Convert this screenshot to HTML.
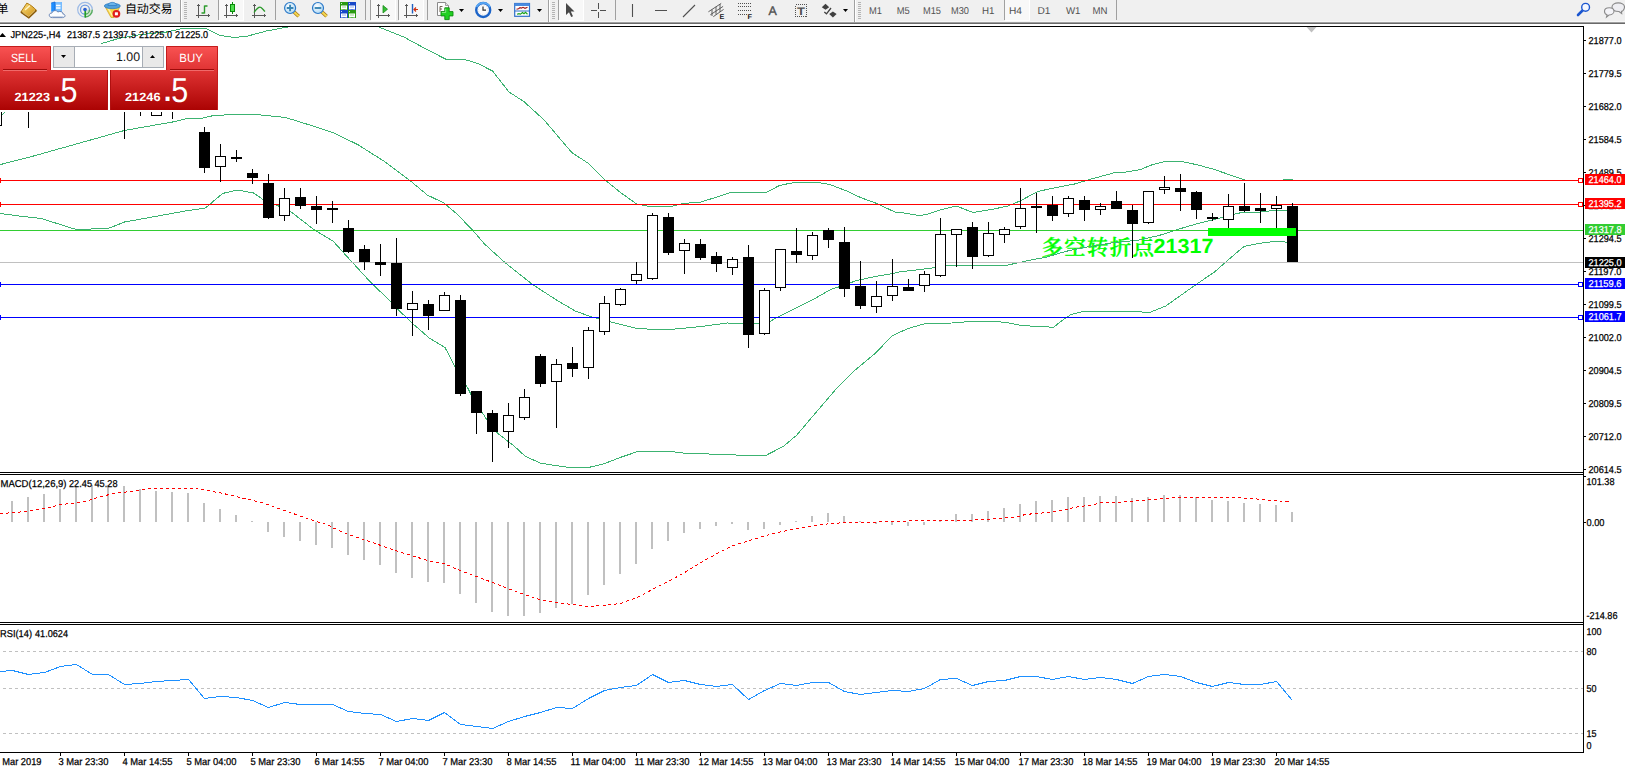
<!DOCTYPE html>
<html lang="zh"><head><meta charset="utf-8"><title>JPN225-,H4</title>
<style>
html,body{margin:0;padding:0;background:#fff;overflow:hidden}
svg{display:block;font-family:"Liberation Sans","Noto Sans CJK SC",sans-serif;font-size:10px;text-rendering:geometricPrecision}
</style></head><body>
<svg width="1625" height="768" viewBox="0 0 1625 768">
<defs>
<linearGradient id="rg" x1="0" y1="0" x2="0" y2="1"><stop offset="0" stop-color="#f95353"/><stop offset="0.38" stop-color="#df3333"/><stop offset="1" stop-color="#ab0303"/></linearGradient>
<linearGradient id="gold" x1="0" y1="0" x2="1" y2="1"><stop offset="0" stop-color="#ffe27a"/><stop offset="1" stop-color="#c98a12"/></linearGradient>
<linearGradient id="blu" x1="0" y1="0" x2="0" y2="1"><stop offset="0" stop-color="#9fd0ff"/><stop offset="1" stop-color="#1f6fd6"/></linearGradient>
<radialGradient id="lens" cx="0.4" cy="0.35" r="0.7"><stop offset="0" stop-color="#ffffff"/><stop offset="1" stop-color="#a9d6f5"/></radialGradient>
<clipPath id="cm"><rect x="0" y="27" width="1583" height="445"/></clipPath>
<clipPath id="c2"><rect x="0" y="475" width="1583" height="147"/></clipPath>
</defs>
<rect x="0" y="0" width="1625" height="768" fill="#fff"/><g shape-rendering="crispEdges">
<rect x="0" y="26" width="1584" height="1" fill="#000"/><rect x="1583" y="26" width="1" height="727" fill="#000"/><rect x="0" y="472" width="1584" height="1" fill="#000"/><rect x="0" y="474" width="1584" height="1" fill="#000"/><rect x="0" y="622" width="1584" height="1" fill="#000"/><rect x="0" y="624" width="1584" height="1" fill="#000"/><rect x="0" y="752" width="1584" height="1" fill="#000"/><polygon points="1306.5,27 1316.5,27 1311.5,32.5" fill="#c0c0c0" shape-rendering="auto"/></g>
<g clip-path="url(#cm)"><text x="1041.5" y="254.5" font-size="21.5" font-weight="600" fill="#00ff00" stroke="#00ff00" stroke-width="0.35" style="font-family:'Liberation Serif','Noto Serif CJK SC',serif" textLength="112.5" lengthAdjust="spacing">多空转折点</text><text x="1153.5" y="253" font-size="20.6" font-weight="bold" fill="#00ff00" textLength="60" lengthAdjust="spacingAndGlyphs">21317</text></g>
<g shape-rendering="crispEdges" clip-path="url(#cm)">
<polyline fill="none" stroke="#3cb371" stroke-width="1" points="0.5,117 4.5,112.5 30.5,92 60.5,68 101.7,43.5 118.7,38.5 140.8,34.5 166.6,32 185.1,28 205.4,28 220.2,35.5 234.9,37.5 247.9,36 266.3,31 290.3,26.5 310.5,20 350.5,18 378.9,27 403.8,37 422.3,47 445.4,59 463,59 477.8,63.5 492.5,71 509,92 523.8,101.5 544.1,120 560.7,139.5 571.8,152.5 588.5,163.5 605.1,180 619.9,192 636.5,204 649.5,206.5 670.7,206.5 682.7,203.5 701.2,202 730.8,192.5 766.1,192.5 779.5,185.5 788.9,183.5 795,182.5 816.9,182.5 825.1,183.5 831.1,185 846.7,191 860.5,197.5 876.8,203.5 895.8,212.5 900.5,212.5 919.3,215.5 926.7,214.5 941.5,209.5 956.3,206 972.9,212.5 991.4,209.5 1008,206 1021,200.5 1037.6,191.5 1056.1,187.5 1074.6,184 1093.1,178.5 1113.4,173 1126.3,172 1140.5,169.5 1151.5,165 1164.5,161.5 1181.2,161.5 1196,164.5 1214.5,169.5 1232.9,176 1243.1,179.5 1244.5,180 1283.5,180 1284.5,179 1292.5,179"/><polyline fill="none" stroke="#3cb371" stroke-width="1" points="0.5,164.5 28.2,157.5 74.5,144.5 124.3,130.5 172.5,122 187.2,118.5 200.5,118.5 211.5,116 230.1,114.5 256,114.5 285.5,117.5 311.4,125.5 333.6,133 357.6,144.5 385.3,162 410.5,181 427.3,195 443.9,203 456.9,214 472.5,230 484.5,244 504.9,262.5 532.5,284.5 556.5,300 575.2,311 590.5,316.5 610.8,322 634.9,328 653.3,329.5 675.5,329 701.4,326.5 727.3,323 743.9,324 767.9,322.5 775.3,318.5 793.8,309 812.3,300 830.8,289.5 840,286.5 856.7,280.5 875.2,276.5 890.5,274 899,272 932.3,268 950.7,265 961.8,265 976.6,266 1008,265 1028.4,260.5 1046.9,257 1065.3,251.5 1083.8,247.5 1111.5,243 1139.3,240 1159,235.5 1177.5,229.5 1196,224 1214.5,219.5 1232.9,214.5 1244,212 1260.5,212 1277.3,210 1288.5,211 1292.5,211"/><polyline fill="none" stroke="#3cb371" stroke-width="1" points="0.5,213.5 19,216 41.2,218.5 74.5,229 81.5,229.5 109.5,228 124.5,222 185.5,211 205.5,208 222.5,193.5 237.1,190 253.5,193 264.5,200.5 277.5,205.5 290.5,211.5 314.5,230 333,241 351.5,261.5 371.8,283.5 391.2,302 397,308.5 412.5,323.5 429.3,338 445,347.5 455.2,367 467.2,387 471.5,395.5 486.7,419.5 497.8,433.5 513.5,445.5 525.5,456.5 540.3,463 555.1,465.5 569.9,467.5 588.4,467.5 603.2,464 621.6,457 636.4,452 647.5,451.5 671.5,451.5 682.5,453 708.5,454 730.5,454.5 742.2,455.5 765.7,455.5 783.2,446.5 796.9,435 812.5,416.5 836.9,388 853.5,371.5 875,353.5 892.6,335.5 908.2,328.5 923.9,324 945.3,323.5 970.7,321.5 996.1,321.5 1006.5,322.5 1018.8,325 1029.6,326 1045.2,326.5 1053.3,327.5 1061.4,321 1070.9,314.5 1083.1,311.5 1141.3,311.5 1142.7,312.5 1149.4,312.5 1165.7,306 1179.2,296.5 1196.8,284 1214.5,272 1229.2,259 1244,246.5 1258.8,243.5 1277.3,241 1288.5,242.5 1292.5,242.5"/><rect x="0" y="262" width="1583" height="1" fill="#c0c0c0"/><rect x="0" y="180" width="1583" height="1" fill="#f00"/><rect x="0" y="204" width="1583" height="1" fill="#f00"/><rect x="0" y="230" width="1583" height="1" fill="#32cd32"/><rect x="0" y="284" width="1583" height="1" fill="#00f"/><rect x="0" y="317" width="1583" height="1" fill="#00f"/><rect x="1578.5" y="178.5" width="4" height="4" fill="#fff" stroke="#f00"/><rect x="-3.5" y="178.5" width="4" height="4" fill="#fff" stroke="#f00"/><rect x="1578.5" y="202.5" width="4" height="4" fill="#fff" stroke="#f00"/><rect x="-3.5" y="202.5" width="4" height="4" fill="#fff" stroke="#f00"/><rect x="1578.5" y="282.5" width="4" height="4" fill="#fff" stroke="#00f"/><rect x="-3.5" y="282.5" width="4" height="4" fill="#fff" stroke="#00f"/><rect x="1578.5" y="315.5" width="4" height="4" fill="#fff" stroke="#00f"/><rect x="-3.5" y="315.5" width="4" height="4" fill="#fff" stroke="#00f"/><rect x="-4" y="95" width="1" height="31" fill="#000"/><rect x="-9" y="100" width="11" height="26" fill="#000"/><rect x="-8" y="101" width="9" height="24" fill="#fff"/><rect x="28" y="70" width="1" height="58" fill="#000"/><rect x="23" y="85" width="11" height="10" fill="#000"/><rect x="124" y="80" width="1" height="59" fill="#000"/><rect x="119" y="90" width="11" height="10" fill="#000"/><rect x="140" y="80" width="1" height="36" fill="#000"/><rect x="135" y="85" width="11" height="10" fill="#000"/><rect x="156" y="80" width="1" height="36" fill="#000"/><rect x="151" y="90" width="11" height="26" fill="#000"/><rect x="152" y="91" width="9" height="24" fill="#fff"/><rect x="172" y="80" width="1" height="39" fill="#000"/><rect x="167" y="85" width="11" height="10" fill="#000"/><rect x="204" y="127" width="1" height="46" fill="#000"/><rect x="199" y="132" width="11" height="36" fill="#000"/><rect x="220" y="144" width="1" height="38" fill="#000"/><rect x="215" y="156" width="11" height="11" fill="#000"/><rect x="216" y="157" width="9" height="9" fill="#fff"/><rect x="236" y="150" width="1" height="12" fill="#000"/><rect x="231" y="157" width="11" height="2" fill="#000"/><rect x="252" y="169" width="1" height="15" fill="#000"/><rect x="247" y="173" width="11" height="5" fill="#000"/><rect x="268" y="174" width="1" height="45" fill="#000"/><rect x="263" y="183" width="11" height="35" fill="#000"/><rect x="284" y="188" width="1" height="33" fill="#000"/><rect x="279" y="198" width="11" height="18" fill="#000"/><rect x="280" y="199" width="9" height="16" fill="#fff"/><rect x="300" y="188" width="1" height="21" fill="#000"/><rect x="295" y="197" width="11" height="9" fill="#000"/><rect x="316" y="196" width="1" height="28" fill="#000"/><rect x="311" y="206" width="11" height="4" fill="#000"/><rect x="332" y="201" width="1" height="22" fill="#000"/><rect x="327" y="208" width="11" height="2" fill="#000"/><rect x="348" y="220" width="1" height="33" fill="#000"/><rect x="343" y="228" width="11" height="24" fill="#000"/><rect x="364" y="245" width="1" height="25" fill="#000"/><rect x="359" y="249" width="11" height="13" fill="#000"/><rect x="380" y="244" width="1" height="32" fill="#000"/><rect x="375" y="262" width="11" height="3" fill="#000"/><rect x="396" y="238" width="1" height="78" fill="#000"/><rect x="391" y="263" width="11" height="46" fill="#000"/><rect x="412" y="291" width="1" height="45" fill="#000"/><rect x="407" y="303" width="11" height="7" fill="#000"/><rect x="408" y="304" width="9" height="5" fill="#fff"/><rect x="428" y="300" width="1" height="30" fill="#000"/><rect x="423" y="304" width="11" height="12" fill="#000"/><rect x="444" y="292" width="1" height="19" fill="#000"/><rect x="439" y="295" width="11" height="16" fill="#000"/><rect x="440" y="296" width="9" height="14" fill="#fff"/><rect x="460" y="295" width="1" height="101" fill="#000"/><rect x="455" y="300" width="11" height="94" fill="#000"/><rect x="476" y="391" width="1" height="43" fill="#000"/><rect x="471" y="391" width="11" height="22" fill="#000"/><rect x="492" y="410" width="1" height="52" fill="#000"/><rect x="487" y="413" width="11" height="19" fill="#000"/><rect x="508" y="403" width="1" height="45" fill="#000"/><rect x="503" y="415" width="11" height="17" fill="#000"/><rect x="504" y="416" width="9" height="15" fill="#fff"/><rect x="524" y="389" width="1" height="31" fill="#000"/><rect x="519" y="397" width="11" height="21" fill="#000"/><rect x="520" y="398" width="9" height="19" fill="#fff"/><rect x="540" y="354" width="1" height="33" fill="#000"/><rect x="535" y="356" width="11" height="28" fill="#000"/><rect x="556" y="359" width="1" height="69" fill="#000"/><rect x="551" y="364" width="11" height="18" fill="#000"/><rect x="552" y="365" width="9" height="16" fill="#fff"/><rect x="572" y="347" width="1" height="30" fill="#000"/><rect x="567" y="363" width="11" height="6" fill="#000"/><rect x="588" y="327" width="1" height="52" fill="#000"/><rect x="583" y="330" width="11" height="38" fill="#000"/><rect x="584" y="331" width="9" height="36" fill="#fff"/><rect x="604" y="296" width="1" height="39" fill="#000"/><rect x="599" y="303" width="11" height="29" fill="#000"/><rect x="600" y="304" width="9" height="27" fill="#fff"/><rect x="620" y="288" width="1" height="18" fill="#000"/><rect x="615" y="289" width="11" height="16" fill="#000"/><rect x="616" y="290" width="9" height="14" fill="#fff"/><rect x="636" y="262" width="1" height="22" fill="#000"/><rect x="631" y="274" width="11" height="7" fill="#000"/><rect x="632" y="275" width="9" height="5" fill="#fff"/><rect x="652" y="213" width="1" height="67" fill="#000"/><rect x="647" y="215" width="11" height="64" fill="#000"/><rect x="648" y="216" width="9" height="62" fill="#fff"/><rect x="668" y="213" width="1" height="42" fill="#000"/><rect x="663" y="217" width="11" height="36" fill="#000"/><rect x="684" y="239" width="1" height="35" fill="#000"/><rect x="679" y="243" width="11" height="8" fill="#000"/><rect x="680" y="244" width="9" height="6" fill="#fff"/><rect x="700" y="239" width="1" height="21" fill="#000"/><rect x="695" y="244" width="11" height="14" fill="#000"/><rect x="716" y="252" width="1" height="20" fill="#000"/><rect x="711" y="256" width="11" height="8" fill="#000"/><rect x="732" y="257" width="1" height="18" fill="#000"/><rect x="727" y="259" width="11" height="9" fill="#000"/><rect x="728" y="260" width="9" height="7" fill="#fff"/><rect x="748" y="245" width="1" height="103" fill="#000"/><rect x="743" y="257" width="11" height="78" fill="#000"/><rect x="764" y="288" width="1" height="47" fill="#000"/><rect x="759" y="290" width="11" height="44" fill="#000"/><rect x="760" y="291" width="9" height="42" fill="#fff"/><rect x="780" y="249" width="1" height="42" fill="#000"/><rect x="775" y="249" width="11" height="39" fill="#000"/><rect x="776" y="250" width="9" height="37" fill="#fff"/><rect x="796" y="228" width="1" height="35" fill="#000"/><rect x="791" y="251" width="11" height="4" fill="#000"/><rect x="812" y="232" width="1" height="28" fill="#000"/><rect x="807" y="235" width="11" height="21" fill="#000"/><rect x="808" y="236" width="9" height="19" fill="#fff"/><rect x="828" y="228" width="1" height="20" fill="#000"/><rect x="823" y="230" width="11" height="10" fill="#000"/><rect x="844" y="227" width="1" height="70" fill="#000"/><rect x="839" y="242" width="11" height="47" fill="#000"/><rect x="860" y="261" width="1" height="48" fill="#000"/><rect x="855" y="286" width="11" height="20" fill="#000"/><rect x="876" y="281" width="1" height="32" fill="#000"/><rect x="871" y="296" width="11" height="11" fill="#000"/><rect x="872" y="297" width="9" height="9" fill="#fff"/><rect x="892" y="259" width="1" height="42" fill="#000"/><rect x="887" y="286" width="11" height="10" fill="#000"/><rect x="888" y="287" width="9" height="8" fill="#fff"/><rect x="908" y="279" width="1" height="12" fill="#000"/><rect x="903" y="287" width="11" height="4" fill="#000"/><rect x="924" y="271" width="1" height="21" fill="#000"/><rect x="919" y="274" width="11" height="12" fill="#000"/><rect x="920" y="275" width="9" height="10" fill="#fff"/><rect x="940" y="218" width="1" height="59" fill="#000"/><rect x="935" y="234" width="11" height="42" fill="#000"/><rect x="936" y="235" width="9" height="40" fill="#fff"/><rect x="956" y="229" width="1" height="38" fill="#000"/><rect x="951" y="229" width="11" height="6" fill="#000"/><rect x="952" y="230" width="9" height="4" fill="#fff"/><rect x="972" y="222" width="1" height="47" fill="#000"/><rect x="967" y="227" width="11" height="30" fill="#000"/><rect x="988" y="222" width="1" height="35" fill="#000"/><rect x="983" y="233" width="11" height="23" fill="#000"/><rect x="984" y="234" width="9" height="21" fill="#fff"/><rect x="1004" y="227" width="1" height="16" fill="#000"/><rect x="999" y="229" width="11" height="6" fill="#000"/><rect x="1000" y="230" width="9" height="4" fill="#fff"/><rect x="1020" y="188" width="1" height="41" fill="#000"/><rect x="1015" y="208" width="11" height="19" fill="#000"/><rect x="1016" y="209" width="9" height="17" fill="#fff"/><rect x="1036" y="193" width="1" height="40" fill="#000"/><rect x="1031" y="206" width="11" height="2" fill="#000"/><rect x="1052" y="196" width="1" height="25" fill="#000"/><rect x="1047" y="205" width="11" height="11" fill="#000"/><rect x="1068" y="196" width="1" height="21" fill="#000"/><rect x="1063" y="198" width="11" height="16" fill="#000"/><rect x="1064" y="199" width="9" height="14" fill="#fff"/><rect x="1084" y="196" width="1" height="25" fill="#000"/><rect x="1079" y="200" width="11" height="10" fill="#000"/><rect x="1100" y="203" width="1" height="12" fill="#000"/><rect x="1095" y="206" width="11" height="4" fill="#000"/><rect x="1096" y="207" width="9" height="2" fill="#fff"/><rect x="1116" y="191" width="1" height="18" fill="#000"/><rect x="1111" y="201" width="11" height="8" fill="#000"/><rect x="1132" y="205" width="1" height="53" fill="#000"/><rect x="1127" y="210" width="11" height="14" fill="#000"/><rect x="1148" y="191" width="1" height="33" fill="#000"/><rect x="1143" y="191" width="11" height="32" fill="#000"/><rect x="1144" y="192" width="9" height="30" fill="#fff"/><rect x="1164" y="176" width="1" height="18" fill="#000"/><rect x="1159" y="187" width="11" height="3" fill="#000"/><rect x="1160" y="188" width="9" height="1" fill="#fff"/><rect x="1180" y="174" width="1" height="37" fill="#000"/><rect x="1175" y="188" width="11" height="4" fill="#000"/><rect x="1196" y="191" width="1" height="28" fill="#000"/><rect x="1191" y="192" width="11" height="18" fill="#000"/><rect x="1212" y="213" width="1" height="8" fill="#000"/><rect x="1207" y="217" width="11" height="2" fill="#000"/><rect x="1228" y="194" width="1" height="34" fill="#000"/><rect x="1223" y="206" width="11" height="14" fill="#000"/><rect x="1224" y="207" width="9" height="12" fill="#fff"/><rect x="1244" y="183" width="1" height="29" fill="#000"/><rect x="1239" y="206" width="11" height="5" fill="#000"/><rect x="1260" y="193" width="1" height="30" fill="#000"/><rect x="1255" y="208" width="11" height="3" fill="#000"/><rect x="1276" y="196" width="1" height="32" fill="#000"/><rect x="1271" y="205" width="11" height="4" fill="#000"/><rect x="1272" y="206" width="9" height="2" fill="#fff"/><rect x="1292" y="203" width="1" height="59" fill="#000"/><rect x="1287" y="206" width="11" height="56" fill="#000"/><rect x="1208" y="228" width="88" height="8" fill="#00ff00"/></g>
<g shape-rendering="crispEdges" clip-path="url(#c2)">
<rect x="11" y="501" width="2" height="21" fill="#c0c0c0"/><rect x="27" y="497" width="2" height="25" fill="#c0c0c0"/><rect x="43" y="494" width="2" height="28" fill="#c0c0c0"/><rect x="59" y="489" width="2" height="33" fill="#c0c0c0"/><rect x="75" y="486" width="2" height="36" fill="#c0c0c0"/><rect x="91" y="485" width="2" height="37" fill="#c0c0c0"/><rect x="107" y="485" width="2" height="37" fill="#c0c0c0"/><rect x="123" y="486" width="2" height="36" fill="#c0c0c0"/><rect x="139" y="489" width="2" height="33" fill="#c0c0c0"/><rect x="155" y="491" width="2" height="31" fill="#c0c0c0"/><rect x="171" y="492" width="2" height="30" fill="#c0c0c0"/><rect x="187" y="493" width="2" height="29" fill="#c0c0c0"/><rect x="203" y="503" width="2" height="19" fill="#c0c0c0"/><rect x="219" y="509" width="2" height="13" fill="#c0c0c0"/><rect x="235" y="515" width="2" height="7" fill="#c0c0c0"/><rect x="251" y="521" width="2" height="1" fill="#c0c0c0"/><rect x="267" y="522" width="2" height="10" fill="#c0c0c0"/><rect x="283" y="522" width="2" height="15" fill="#c0c0c0"/><rect x="299" y="522" width="2" height="19" fill="#c0c0c0"/><rect x="315" y="522" width="2" height="23" fill="#c0c0c0"/><rect x="331" y="522" width="2" height="26" fill="#c0c0c0"/><rect x="347" y="522" width="2" height="33" fill="#c0c0c0"/><rect x="363" y="522" width="2" height="38" fill="#c0c0c0"/><rect x="379" y="522" width="2" height="43" fill="#c0c0c0"/><rect x="395" y="522" width="2" height="51" fill="#c0c0c0"/><rect x="411" y="522" width="2" height="56" fill="#c0c0c0"/><rect x="427" y="522" width="2" height="60" fill="#c0c0c0"/><rect x="443" y="522" width="2" height="61" fill="#c0c0c0"/><rect x="459" y="522" width="2" height="72" fill="#c0c0c0"/><rect x="475" y="522" width="2" height="81" fill="#c0c0c0"/><rect x="491" y="522" width="2" height="90" fill="#c0c0c0"/><rect x="507" y="522" width="2" height="94" fill="#c0c0c0"/><rect x="523" y="522" width="2" height="94" fill="#c0c0c0"/><rect x="539" y="522" width="2" height="91" fill="#c0c0c0"/><rect x="555" y="522" width="2" height="86" fill="#c0c0c0"/><rect x="571" y="522" width="2" height="82" fill="#c0c0c0"/><rect x="587" y="522" width="2" height="73" fill="#c0c0c0"/><rect x="603" y="522" width="2" height="63" fill="#c0c0c0"/><rect x="619" y="522" width="2" height="52" fill="#c0c0c0"/><rect x="635" y="522" width="2" height="42" fill="#c0c0c0"/><rect x="651" y="522" width="2" height="27" fill="#c0c0c0"/><rect x="667" y="522" width="2" height="19" fill="#c0c0c0"/><rect x="683" y="522" width="2" height="11" fill="#c0c0c0"/><rect x="699" y="522" width="2" height="7" fill="#c0c0c0"/><rect x="715" y="522" width="2" height="4" fill="#c0c0c0"/><rect x="731" y="522" width="2" height="2" fill="#c0c0c0"/><rect x="747" y="522" width="2" height="8" fill="#c0c0c0"/><rect x="763" y="522" width="2" height="7" fill="#c0c0c0"/><rect x="779" y="522" width="2" height="3" fill="#c0c0c0"/><rect x="795" y="521" width="2" height="1" fill="#c0c0c0"/><rect x="811" y="516" width="2" height="6" fill="#c0c0c0"/><rect x="827" y="513" width="2" height="9" fill="#c0c0c0"/><rect x="843" y="516" width="2" height="6" fill="#c0c0c0"/><rect x="859" y="521" width="2" height="1" fill="#c0c0c0"/><rect x="875" y="522" width="2" height="2" fill="#c0c0c0"/><rect x="891" y="522" width="2" height="3" fill="#c0c0c0"/><rect x="907" y="522" width="2" height="4" fill="#c0c0c0"/><rect x="923" y="522" width="2" height="3" fill="#c0c0c0"/><rect x="939" y="520" width="2" height="2" fill="#c0c0c0"/><rect x="955" y="514" width="2" height="8" fill="#c0c0c0"/><rect x="971" y="514" width="2" height="8" fill="#c0c0c0"/><rect x="987" y="511" width="2" height="11" fill="#c0c0c0"/><rect x="1003" y="508" width="2" height="14" fill="#c0c0c0"/><rect x="1019" y="504" width="2" height="18" fill="#c0c0c0"/><rect x="1035" y="501" width="2" height="21" fill="#c0c0c0"/><rect x="1051" y="500" width="2" height="22" fill="#c0c0c0"/><rect x="1067" y="497" width="2" height="25" fill="#c0c0c0"/><rect x="1083" y="497" width="2" height="25" fill="#c0c0c0"/><rect x="1099" y="496" width="2" height="26" fill="#c0c0c0"/><rect x="1115" y="496" width="2" height="26" fill="#c0c0c0"/><rect x="1131" y="498" width="2" height="24" fill="#c0c0c0"/><rect x="1147" y="497" width="2" height="25" fill="#c0c0c0"/><rect x="1163" y="495" width="2" height="27" fill="#c0c0c0"/><rect x="1179" y="495" width="2" height="27" fill="#c0c0c0"/><rect x="1195" y="497" width="2" height="25" fill="#c0c0c0"/><rect x="1211" y="500" width="2" height="22" fill="#c0c0c0"/><rect x="1227" y="501" width="2" height="21" fill="#c0c0c0"/><rect x="1243" y="503" width="2" height="19" fill="#c0c0c0"/><rect x="1259" y="504" width="2" height="18" fill="#c0c0c0"/><rect x="1275" y="505" width="2" height="17" fill="#c0c0c0"/><rect x="1291" y="512" width="2" height="10" fill="#c0c0c0"/><polyline fill="none" stroke="#f00" stroke-width="1" stroke-dasharray="3 3" points="0,513.5 2,513.5 26.4,511.5 44.7,508.5 60.9,504.5 81.2,502.5 101.5,496.5 113.7,493.5 130,491.5 142.2,489.5 154.3,488.5 195,488.5 207.1,490.5 223.4,493.5 243.7,498.5 262,502.5 284.3,510.5 304.6,517.5 316.8,521.5 329.6,525.5 332.2,527.5 348.4,534.5 363.7,539.5 380.9,545.5 395.1,550.5 411.4,555.5 427.6,560.5 443.9,563.5 460.1,570.5 476.4,576.5 492.6,582.5 507.9,588.5 524.1,594.5 539.3,599.5 555.6,602.5 571.8,604.5 588.1,606.5 604.3,605.5 620.6,603.5 636.8,597.5 647,592.5 652.2,589.5 668.4,581.5 684.7,572.5 700.9,562.5 717.2,553.5 733.4,545.5 749.7,540.5 765.9,535.5 782.2,531.5 798.4,528.5 814.7,525.5 830.9,523.5 847.2,522.5 863.4,522.5 891.8,521.5 924.3,520.5 962,520.5 988.4,519.5 1018.9,516.5 1025,514.5 1047.3,512.5 1065.6,509.5 1073.7,507.5 1094,504.5 1102.2,502.5 1118.4,502.5 1152.9,499.5 1163.1,498.5 1179.3,497.5 1234.2,497.5 1264.6,499.5 1270.7,500.5 1289.3,501.5"/></g>
<g shape-rendering="crispEdges">
<line x1="0" y1="651.5" x2="1583" y2="651.5" stroke="#c0c0c0" stroke-dasharray="3 3" stroke-dashoffset="3"/><line x1="0" y1="688.5" x2="1583" y2="688.5" stroke="#c0c0c0" stroke-dasharray="3 3" stroke-dashoffset="3"/><line x1="0" y1="733.5" x2="1583" y2="733.5" stroke="#c0c0c0" stroke-dasharray="3 3" stroke-dashoffset="3"/><polyline fill="none" stroke="#1e90ff" stroke-width="1" points="0,671.5 12.5,670.5 28.5,674.5 44.5,672.5 60.5,666.5 76.5,664.5 92.5,674.5 108.5,674.5 124.5,684.5 140.5,683.5 156.5,681.5 172.5,680.5 188.5,679.5 204.5,698.5 220.5,696.5 236.5,697.5 252.5,700.5 268.5,707.5 284.5,702.5 300.5,704.5 316.5,704.5 332.5,704.5 348.5,711.5 364.5,713.5 380.5,714.5 396.5,721.5 412.5,718.5 428.5,720.5 444.5,712.5 460.5,724.5 476.5,726.5 492.5,728.5 508.5,721.5 524.5,716.5 540.5,712.5 556.5,707.5 572.5,708.5 588.5,698.5 604.5,690.5 620.5,687.5 636.5,685.5 652.5,674.5 668.5,682.5 684.5,680.5 700.5,684.5 716.5,686.5 732.5,684.5 748.5,699.5 764.5,690.5 780.5,683.5 796.5,685.5 812.5,682.5 828.5,682.5 844.5,691.5 860.5,694.5 876.5,692.5 892.5,690.5 908.5,691.5 924.5,688.5 940.5,679.5 956.5,678.5 972.5,685.5 988.5,681.5 1004.5,680.5 1020.5,676.5 1036.5,676.5 1052.5,679.5 1068.5,676.5 1084.5,679.5 1100.5,677.5 1116.5,679.5 1132.5,683.5 1148.5,676.5 1164.5,674.5 1180.5,676.5 1196.5,682.5 1212.5,686.5 1228.5,682.5 1244.5,684.5 1260.5,684.5 1276.5,681.5 1292.5,700.5"/></g>
<g shape-rendering="crispEdges"><rect x="1584" y="40" width="2" height="1" fill="#000"/><rect x="1584" y="73" width="2" height="1" fill="#000"/><rect x="1584" y="106" width="2" height="1" fill="#000"/><rect x="1584" y="139" width="2" height="1" fill="#000"/><rect x="1584" y="172" width="2" height="1" fill="#000"/><rect x="1584" y="205" width="2" height="1" fill="#000"/><rect x="1584" y="238" width="2" height="1" fill="#000"/><rect x="1584" y="271" width="2" height="1" fill="#000"/><rect x="1584" y="304" width="2" height="1" fill="#000"/><rect x="1584" y="337" width="2" height="1" fill="#000"/><rect x="1584" y="370" width="2" height="1" fill="#000"/><rect x="1584" y="403" width="2" height="1" fill="#000"/><rect x="1584" y="436" width="2" height="1" fill="#000"/><rect x="1584" y="469" width="2" height="1" fill="#000"/><rect x="1584" y="476" width="2" height="1" fill="#000"/><rect x="1584" y="522" width="2" height="1" fill="#000"/><rect x="60" y="753" width="1" height="3" fill="#000"/><rect x="124" y="753" width="1" height="3" fill="#000"/><rect x="188" y="753" width="1" height="3" fill="#000"/><rect x="252" y="753" width="1" height="3" fill="#000"/><rect x="316" y="753" width="1" height="3" fill="#000"/><rect x="380" y="753" width="1" height="3" fill="#000"/><rect x="444" y="753" width="1" height="3" fill="#000"/><rect x="508" y="753" width="1" height="3" fill="#000"/><rect x="572" y="753" width="1" height="3" fill="#000"/><rect x="636" y="753" width="1" height="3" fill="#000"/><rect x="700" y="753" width="1" height="3" fill="#000"/><rect x="764" y="753" width="1" height="3" fill="#000"/><rect x="828" y="753" width="1" height="3" fill="#000"/><rect x="892" y="753" width="1" height="3" fill="#000"/><rect x="956" y="753" width="1" height="3" fill="#000"/><rect x="1020" y="753" width="1" height="3" fill="#000"/><rect x="1084" y="753" width="1" height="3" fill="#000"/><rect x="1148" y="753" width="1" height="3" fill="#000"/><rect x="1212" y="753" width="1" height="3" fill="#000"/><rect x="1276" y="753" width="1" height="3" fill="#000"/></g>
<text x="1588.5" y="44" stroke="#000" stroke-width="0.25" textLength="33" lengthAdjust="spacingAndGlyphs">21877.0</text><text x="1588.5" y="77" stroke="#000" stroke-width="0.25" textLength="33" lengthAdjust="spacingAndGlyphs">21779.5</text><text x="1588.5" y="110" stroke="#000" stroke-width="0.25" textLength="33" lengthAdjust="spacingAndGlyphs">21682.0</text><text x="1588.5" y="143" stroke="#000" stroke-width="0.25" textLength="33" lengthAdjust="spacingAndGlyphs">21584.5</text><text x="1588.5" y="176" stroke="#000" stroke-width="0.25" textLength="33" lengthAdjust="spacingAndGlyphs">21489.5</text><text x="1588.5" y="209" stroke="#000" stroke-width="0.25" textLength="33" lengthAdjust="spacingAndGlyphs">21392.0</text><text x="1588.5" y="242" stroke="#000" stroke-width="0.25" textLength="33" lengthAdjust="spacingAndGlyphs">21294.5</text><text x="1588.5" y="275" stroke="#000" stroke-width="0.25" textLength="33" lengthAdjust="spacingAndGlyphs">21197.0</text><text x="1588.5" y="308" stroke="#000" stroke-width="0.25" textLength="33" lengthAdjust="spacingAndGlyphs">21099.5</text><text x="1588.5" y="341" stroke="#000" stroke-width="0.25" textLength="33" lengthAdjust="spacingAndGlyphs">21002.0</text><text x="1588.5" y="374" stroke="#000" stroke-width="0.25" textLength="33" lengthAdjust="spacingAndGlyphs">20904.5</text><text x="1588.5" y="407" stroke="#000" stroke-width="0.25" textLength="33" lengthAdjust="spacingAndGlyphs">20809.5</text><text x="1588.5" y="440" stroke="#000" stroke-width="0.25" textLength="33" lengthAdjust="spacingAndGlyphs">20712.0</text><text x="1588.5" y="473" stroke="#000" stroke-width="0.25" textLength="33" lengthAdjust="spacingAndGlyphs">20614.5</text><g shape-rendering="crispEdges"><rect x="1585" y="174" width="40" height="11" fill="#f00"/><rect x="1585" y="198" width="40" height="11" fill="#f00"/><rect x="1585" y="224" width="40" height="11" fill="#32cd32"/><rect x="1585" y="257" width="40" height="11" fill="#000"/><rect x="1585" y="278" width="40" height="11" fill="#00f"/><rect x="1585" y="311" width="40" height="11" fill="#00f"/></g>
<text x="1588.5" y="183" fill="#fff" stroke="#fff" stroke-width="0.25" textLength="33" lengthAdjust="spacingAndGlyphs">21464.0</text><text x="1588.5" y="207" fill="#fff" stroke="#fff" stroke-width="0.25" textLength="33" lengthAdjust="spacingAndGlyphs">21395.2</text><text x="1588.5" y="233" fill="#fff" stroke="#fff" stroke-width="0.25" textLength="33" lengthAdjust="spacingAndGlyphs">21317.8</text><text x="1588.5" y="266" fill="#fff" stroke="#fff" stroke-width="0.25" textLength="33" lengthAdjust="spacingAndGlyphs">21225.0</text><text x="1588.5" y="287" fill="#fff" stroke="#fff" stroke-width="0.25" textLength="33" lengthAdjust="spacingAndGlyphs">21159.6</text><text x="1588.5" y="320" fill="#fff" stroke="#fff" stroke-width="0.25" textLength="33" lengthAdjust="spacingAndGlyphs">21061.7</text><text x="1586.5" y="485" stroke="#000" stroke-width="0.25" textLength="28" lengthAdjust="spacingAndGlyphs">101.38</text><text x="1586.5" y="526" stroke="#000" stroke-width="0.25" textLength="18" lengthAdjust="spacingAndGlyphs">0.00</text><text x="1586.5" y="619" stroke="#000" stroke-width="0.25" textLength="31" lengthAdjust="spacingAndGlyphs">-214.86</text><text x="1586.5" y="635" stroke="#000" stroke-width="0.25" textLength="15" lengthAdjust="spacingAndGlyphs">100</text><text x="1586.5" y="655" stroke="#000" stroke-width="0.25" textLength="10" lengthAdjust="spacingAndGlyphs">80</text><text x="1586.5" y="692" stroke="#000" stroke-width="0.25" textLength="10" lengthAdjust="spacingAndGlyphs">50</text><text x="1586.5" y="737" stroke="#000" stroke-width="0.25" textLength="10" lengthAdjust="spacingAndGlyphs">15</text><text x="1586.5" y="749" stroke="#000" stroke-width="0.25" textLength="5" lengthAdjust="spacingAndGlyphs">0</text><text x="0.5" y="487" stroke="#000" stroke-width="0.25" textLength="66" lengthAdjust="spacingAndGlyphs">MACD(12,26,9)</text><text x="69" y="487" stroke="#000" stroke-width="0.25" textLength="23" lengthAdjust="spacingAndGlyphs">22.45</text><text x="94.5" y="487" stroke="#000" stroke-width="0.25" textLength="23" lengthAdjust="spacingAndGlyphs">45.28</text><text x="0" y="637" stroke="#000" stroke-width="0.25" textLength="32" lengthAdjust="spacingAndGlyphs">RSI(14)</text><text x="35" y="637" stroke="#000" stroke-width="0.25" textLength="33" lengthAdjust="spacingAndGlyphs">41.0624</text><text x="-5.5" y="765" stroke="#000" stroke-width="0.25" textLength="47" lengthAdjust="spacingAndGlyphs">1 Mar 2019</text><text x="58.5" y="765" stroke="#000" stroke-width="0.25" textLength="50" lengthAdjust="spacingAndGlyphs">3 Mar 23:30</text><text x="122.5" y="765" stroke="#000" stroke-width="0.25" textLength="50" lengthAdjust="spacingAndGlyphs">4 Mar 14:55</text><text x="186.5" y="765" stroke="#000" stroke-width="0.25" textLength="50" lengthAdjust="spacingAndGlyphs">5 Mar 04:00</text><text x="250.5" y="765" stroke="#000" stroke-width="0.25" textLength="50" lengthAdjust="spacingAndGlyphs">5 Mar 23:30</text><text x="314.5" y="765" stroke="#000" stroke-width="0.25" textLength="50" lengthAdjust="spacingAndGlyphs">6 Mar 14:55</text><text x="378.5" y="765" stroke="#000" stroke-width="0.25" textLength="50" lengthAdjust="spacingAndGlyphs">7 Mar 04:00</text><text x="442.5" y="765" stroke="#000" stroke-width="0.25" textLength="50" lengthAdjust="spacingAndGlyphs">7 Mar 23:30</text><text x="506.5" y="765" stroke="#000" stroke-width="0.25" textLength="50" lengthAdjust="spacingAndGlyphs">8 Mar 14:55</text><text x="570.5" y="765" stroke="#000" stroke-width="0.25" textLength="55" lengthAdjust="spacingAndGlyphs">11 Mar 04:00</text><text x="634.5" y="765" stroke="#000" stroke-width="0.25" textLength="55" lengthAdjust="spacingAndGlyphs">11 Mar 23:30</text><text x="698.5" y="765" stroke="#000" stroke-width="0.25" textLength="55" lengthAdjust="spacingAndGlyphs">12 Mar 14:55</text><text x="762.5" y="765" stroke="#000" stroke-width="0.25" textLength="55" lengthAdjust="spacingAndGlyphs">13 Mar 04:00</text><text x="826.5" y="765" stroke="#000" stroke-width="0.25" textLength="55" lengthAdjust="spacingAndGlyphs">13 Mar 23:30</text><text x="890.5" y="765" stroke="#000" stroke-width="0.25" textLength="55" lengthAdjust="spacingAndGlyphs">14 Mar 14:55</text><text x="954.5" y="765" stroke="#000" stroke-width="0.25" textLength="55" lengthAdjust="spacingAndGlyphs">15 Mar 04:00</text><text x="1018.5" y="765" stroke="#000" stroke-width="0.25" textLength="55" lengthAdjust="spacingAndGlyphs">17 Mar 23:30</text><text x="1082.5" y="765" stroke="#000" stroke-width="0.25" textLength="55" lengthAdjust="spacingAndGlyphs">18 Mar 14:55</text><text x="1146.5" y="765" stroke="#000" stroke-width="0.25" textLength="55" lengthAdjust="spacingAndGlyphs">19 Mar 04:00</text><text x="1210.5" y="765" stroke="#000" stroke-width="0.25" textLength="55" lengthAdjust="spacingAndGlyphs">19 Mar 23:30</text><text x="1274.5" y="765" stroke="#000" stroke-width="0.25" textLength="55" lengthAdjust="spacingAndGlyphs">20 Mar 14:55</text><polygon points="-1,37 6,37 2.5,33" fill="#000"/><text x="10.5" y="38" stroke="#000" stroke-width="0.25" textLength="50" lengthAdjust="spacingAndGlyphs">JPN225-,H4</text><text x="67" y="38" stroke="#000" stroke-width="0.25" textLength="33" lengthAdjust="spacingAndGlyphs">21387.5</text><text x="103" y="38" stroke="#000" stroke-width="0.25" textLength="33" lengthAdjust="spacingAndGlyphs">21397.5</text><text x="139" y="38" stroke="#000" stroke-width="0.25" textLength="33" lengthAdjust="spacingAndGlyphs">21225.0</text><text x="175" y="38" stroke="#000" stroke-width="0.25" textLength="33" lengthAdjust="spacingAndGlyphs">21225.0</text><g>
<rect x="0" y="44" width="220" height="68" fill="#fff"/><path d="M0 46H51V70H108V110H0Z" fill="url(#rg)"/><path d="M166 46H218V110H110V70H166Z" fill="url(#rg)"/><path d="M0 46.5H50.5V70" fill="none" stroke="#c41c1c"/><path d="M166.5 70V46.5H217.5V110" fill="none" stroke="#c41c1c"/><path d="M107.5 70V110M110.5 70V110" fill="none" stroke="#b01010"/><path d="M3 69.5H47M170 69.5H214" stroke="#9c0a0a" fill="none"/><path d="M3 70.5H47M170 70.5H214" stroke="#f06a6a" fill="none"/><rect x="53.5" y="46.5" width="110" height="21" fill="#fff" stroke="#a7adb5"/><rect x="54" y="47" width="20" height="20" fill="#e9e9e9"/><rect x="143" y="47" width="20" height="20" fill="#e9e9e9"/><path d="M74.5 47V67M142.5 47V67" stroke="#a7adb5" fill="none"/><polygon points="61,55 66,55 63.5,58" fill="#000"/><polygon points="150,58 155,58 152.5,55" fill="#000"/><text x="116" y="60.7" font-size="12.4" fill="#111" textLength="24" lengthAdjust="spacingAndGlyphs">1.00</text><text x="11" y="62" font-size="12" fill="#fff" textLength="26" lengthAdjust="spacingAndGlyphs">SELL</text><text x="179.3" y="62" font-size="12" fill="#fff" textLength="23.5" lengthAdjust="spacingAndGlyphs">BUY</text><text x="14.5" y="101" font-size="12" fill="#fff" textLength="35.5" lengthAdjust="spacingAndGlyphs" font-weight="bold">21223</text><text x="125" y="101" font-size="12" fill="#fff" textLength="35.5" lengthAdjust="spacingAndGlyphs" font-weight="bold">21246</text><text x="51.2" y="101.3" font-size="40" fill="#fff">.</text><text x="60.6" y="101.5" font-size="34.5" fill="#fff" textLength="17" lengthAdjust="spacingAndGlyphs">5</text><text x="162" y="101.3" font-size="40" fill="#fff">.</text><text x="171.3" y="101.5" font-size="34.5" fill="#fff" textLength="17" lengthAdjust="spacingAndGlyphs">5</text></g>
<g shape-rendering="crispEdges"><rect x="0" y="0" width="1625" height="21" fill="#f0f0f0"/><rect x="0" y="21" width="1625" height="1" fill="#f7f7f7"/><rect x="0" y="22" width="1625" height="1" fill="#a0a0a0"/><rect x="0" y="23" width="1625" height="1" fill="#696969"/><rect x="0" y="24" width="1625" height="2" fill="#fff"/><rect x="1584" y="26" width="41" height="1" fill="#fff"/><rect x="219" y="0" width="24" height="20" fill="#f8f8f8"/><rect x="243" y="0" width="1" height="21" fill="#fff"/><rect x="219" y="20" width="24" height="1" fill="#fff"/><rect x="371" y="0" width="24" height="20" fill="#f8f8f8"/><rect x="395" y="0" width="1" height="21" fill="#fff"/><rect x="371" y="20" width="24" height="1" fill="#fff"/><rect x="399" y="0" width="24" height="20" fill="#f8f8f8"/><rect x="423" y="0" width="1" height="21" fill="#fff"/><rect x="399" y="20" width="24" height="1" fill="#fff"/><rect x="559" y="0" width="24" height="20" fill="#f8f8f8"/><rect x="583" y="0" width="1" height="21" fill="#fff"/><rect x="559" y="20" width="24" height="1" fill="#fff"/><rect x="1005" y="0" width="24" height="20" fill="#f8f8f8"/><rect x="1029" y="0" width="1" height="21" fill="#fff"/><rect x="1005" y="20" width="24" height="1" fill="#fff"/><rect x="180" y="0" width="1" height="22" fill="#a0a0a0"/><rect x="181" y="0" width="1" height="22" fill="#fff"/><rect x="548" y="0" width="1" height="22" fill="#a0a0a0"/><rect x="549" y="0" width="1" height="22" fill="#fff"/><rect x="854" y="0" width="1" height="22" fill="#a0a0a0"/><rect x="855" y="0" width="1" height="22" fill="#fff"/><rect x="218" y="0" width="1" height="20" fill="#a0a0a0"/><rect x="275" y="0" width="1" height="20" fill="#a0a0a0"/><rect x="365" y="0" width="1" height="20" fill="#a0a0a0"/><rect x="370" y="0" width="1" height="20" fill="#a0a0a0"/><rect x="398" y="0" width="1" height="20" fill="#a0a0a0"/><rect x="427" y="0" width="1" height="20" fill="#a0a0a0"/><rect x="558" y="0" width="1" height="20" fill="#a0a0a0"/><rect x="615" y="0" width="1" height="20" fill="#a0a0a0"/><rect x="1004" y="0" width="1" height="20" fill="#a0a0a0"/><rect x="1116" y="0" width="1" height="20" fill="#a0a0a0"/><rect x="184" y="2" width="3" height="1" fill="#b4b4b4"/><rect x="184" y="4" width="3" height="1" fill="#b4b4b4"/><rect x="184" y="6" width="3" height="1" fill="#b4b4b4"/><rect x="184" y="8" width="3" height="1" fill="#b4b4b4"/><rect x="184" y="10" width="3" height="1" fill="#b4b4b4"/><rect x="184" y="12" width="3" height="1" fill="#b4b4b4"/><rect x="184" y="14" width="3" height="1" fill="#b4b4b4"/><rect x="184" y="16" width="3" height="1" fill="#b4b4b4"/><rect x="184" y="18" width="3" height="1" fill="#b4b4b4"/><rect x="552" y="2" width="3" height="1" fill="#b4b4b4"/><rect x="552" y="4" width="3" height="1" fill="#b4b4b4"/><rect x="552" y="6" width="3" height="1" fill="#b4b4b4"/><rect x="552" y="8" width="3" height="1" fill="#b4b4b4"/><rect x="552" y="10" width="3" height="1" fill="#b4b4b4"/><rect x="552" y="12" width="3" height="1" fill="#b4b4b4"/><rect x="552" y="14" width="3" height="1" fill="#b4b4b4"/><rect x="552" y="16" width="3" height="1" fill="#b4b4b4"/><rect x="552" y="18" width="3" height="1" fill="#b4b4b4"/><rect x="858" y="2" width="3" height="1" fill="#b4b4b4"/><rect x="858" y="4" width="3" height="1" fill="#b4b4b4"/><rect x="858" y="6" width="3" height="1" fill="#b4b4b4"/><rect x="858" y="8" width="3" height="1" fill="#b4b4b4"/><rect x="858" y="10" width="3" height="1" fill="#b4b4b4"/><rect x="858" y="12" width="3" height="1" fill="#b4b4b4"/><rect x="858" y="14" width="3" height="1" fill="#b4b4b4"/><rect x="858" y="16" width="3" height="1" fill="#b4b4b4"/><rect x="858" y="18" width="3" height="1" fill="#b4b4b4"/></g>
<text x="-3.4" y="13" font-size="12">单</text><text x="125" y="13" font-size="12" textLength="47.5" lengthAdjust="spacing">自动交易</text><g fill="#505050"><text x="869" y="14" textLength="13" lengthAdjust="spacingAndGlyphs">M1</text><text x="896.7" y="14" textLength="13" lengthAdjust="spacingAndGlyphs">M5</text><text x="923" y="14" textLength="18" lengthAdjust="spacingAndGlyphs">M15</text><text x="951" y="14" textLength="18" lengthAdjust="spacingAndGlyphs">M30</text><text x="982" y="14" textLength="12.5" lengthAdjust="spacingAndGlyphs">H1</text><text x="1009" y="14" textLength="13" lengthAdjust="spacingAndGlyphs">H4</text><text x="1037.5" y="14" textLength="13" lengthAdjust="spacingAndGlyphs">D1</text><text x="1066" y="14" textLength="14.5" lengthAdjust="spacingAndGlyphs">W1</text><text x="1092.5" y="14" textLength="15" lengthAdjust="spacingAndGlyphs">MN</text></g>
<g>
<path d="M26.800 3.100C30 4.500 34 7.500 36.400 10.300L28.800 17.600L20.900 12Z" fill="url(#gold)" stroke="#a8730c" stroke-width="0.900"/><path d="M20.900 12L28.800 17.600L36.400 10.300" fill="none" stroke="#8a5a08" stroke-width="1.700"/><path d="M22.500 12.400L28.700 16.500L35 10.500" fill="none" stroke="#f2dfa8" stroke-width="0.600"/><path d="M25.500 9.500L29.500 6" stroke="#fff6c8" stroke-width="1.400" stroke-linecap="round"/><path d="M51.200 3L55 2H61.600V11.700H51.200Z" fill="#1e8fff"/><path d="M55 2H61.600V11.700H55Z" fill="#7cc0ff"/><path d="M56 5.500H60.500M56 8H60.500" stroke="#fff" stroke-width="1.300"/><path d="M51.200 3L55 2V11.700" fill="none" stroke="#1268d8" stroke-width="0.800"/><path d="M52.300 17.600C48.300 17.600 48.300 12.800 52 13C52.500 10.200 56.800 9.800 57.800 12C60.500 10.600 63.600 12.300 62.800 14C65.800 14 65.800 17.600 62.500 17.600Z" fill="#fbfdff" stroke="#5877ad" stroke-width="0.900"/><path d="M51.500 16.600H63.500" stroke="#c4d0e4" stroke-width="1"/><circle cx="85" cy="9.700" r="7.300" fill="none" stroke="#9dbbe6" stroke-width="1.200"/><circle cx="85" cy="9.700" r="4.500" fill="none" stroke="#6d9ae0" stroke-width="1.300"/><path d="M85 17A7.300 7.300 0 0 0 92.300 9.700L85 9.700Z" fill="#bfe0bf" opacity="0.700"/><path d="M85 17A7.300 7.300 0 0 0 92.300 9.700M85 14.200A4.500 4.500 0 0 0 89.500 9.700" fill="none" stroke="#58ae58" stroke-width="1.300"/><path d="M85.200 10V17.600" stroke="#22a022" stroke-width="1.600"/><circle cx="85" cy="9.500" r="1.800" fill="#2a5fd0"/><path d="M105.500 7.500L119.500 7.500L114 17.500L111 17.500Z" fill="#f8d648" stroke="#d0a020" stroke-width="0.700"/><path d="M108 8L112.500 16" stroke="#fff3a8" stroke-width="1.500"/><ellipse cx="112.300" cy="6" rx="8" ry="2.700" fill="#4f9fdc" stroke="#2a78c0" stroke-width="0.700"/><path d="M108 5.500C108 1.300 116.500 1.300 116.500 5.500Z" fill="#6ab4ea" stroke="#2a78c0" stroke-width="0.700"/><circle cx="116.400" cy="13.800" r="3.900" fill="#e01c1c"/><rect x="114.900" y="12.300" width="3" height="3" fill="#fff"/><g shape-rendering="crispEdges" fill="#585858"><rect x="198" y="4" width="1" height="14"/><rect x="196" y="15" width="14" height="1"/><rect x="197" y="5" width="3" height="1"/><rect x="208" y="14" width="1" height="3"/></g><path d="M204.500 5.500V13.500M204.500 6H207.500M201.500 13H204.500" fill="none" stroke="#2a9a2a" stroke-width="1.400"/><g shape-rendering="crispEdges" fill="#585858"><rect x="226" y="4" width="1" height="14"/><rect x="224" y="15" width="14" height="1"/><rect x="225" y="5" width="3" height="1"/><rect x="236" y="14" width="1" height="3"/></g><g shape-rendering="crispEdges"><rect x="232" y="2" width="1" height="12" fill="#0a8a0a"/><rect x="230" y="4" width="5" height="8" fill="#0a8a0a"/><rect x="231" y="5" width="3" height="6" fill="#4ee04e"/></g><g shape-rendering="crispEdges" fill="#585858"><rect x="254" y="4" width="1" height="14"/><rect x="252" y="15" width="14" height="1"/><rect x="253" y="5" width="3" height="1"/><rect x="264" y="14" width="1" height="3"/></g><path d="M254 12.500C257 8 259.500 6.500 261 7.500C262.500 8.500 263.500 10 265 11.500" fill="none" stroke="#2a9a2a" stroke-width="1.300"/><path d="M294.1 12L298.70000000000005 16.300" stroke="#a87818" stroke-width="3.600" stroke-linecap="butt"/><path d="M294.1 12L298.70000000000005 16.300" stroke="#f4d850" stroke-width="2" stroke-linecap="butt"/><circle cx="290.1" cy="8" r="5.500" fill="url(#lens)" stroke="#2a78c8" stroke-width="1.200"/><path d="M286.8 8H293.40000000000003M290.1 4.700V11.300" stroke="#3a86b4" stroke-width="1.900"/><path d="M322 12L326.6 16.300" stroke="#a87818" stroke-width="3.600" stroke-linecap="butt"/><path d="M322 12L326.6 16.300" stroke="#f4d850" stroke-width="2" stroke-linecap="butt"/><circle cx="318" cy="8" r="5.500" fill="url(#lens)" stroke="#2a78c8" stroke-width="1.200"/><path d="M314.7 8H321.3" stroke="#3a86b4" stroke-width="1.900"/><rect x="340" y="2" width="8" height="8" fill="#2a9a10"/><rect x="341" y="5.5" width="6" height="4" fill="#fff"/><rect x="342" y="6.5" width="4" height="1" fill="#2a9a10" opacity="0.450"/><rect x="342.5" y="9" width="3" height="0.500" fill="#2a9a10"/><rect x="341" y="3" width="1" height="1" fill="#fff" opacity="0.800"/><rect x="348" y="2" width="8" height="8" fill="#1848c8"/><rect x="349" y="5.5" width="6" height="4" fill="#fff"/><rect x="350" y="6.5" width="4" height="1" fill="#1848c8" opacity="0.450"/><rect x="350.5" y="9" width="3" height="0.500" fill="#1848c8"/><rect x="349" y="3" width="1" height="1" fill="#fff" opacity="0.800"/><rect x="340" y="10" width="8" height="8" fill="#1848c8"/><rect x="341" y="13.5" width="6" height="4" fill="#fff"/><rect x="342" y="14.5" width="4" height="1" fill="#1848c8" opacity="0.450"/><rect x="342.5" y="17" width="3" height="0.500" fill="#1848c8"/><rect x="341" y="11" width="1" height="1" fill="#fff" opacity="0.800"/><rect x="348" y="10" width="8" height="8" fill="#2a9a10"/><rect x="349" y="13.5" width="6" height="4" fill="#fff"/><rect x="350" y="14.5" width="4" height="1" fill="#2a9a10" opacity="0.450"/><rect x="350.5" y="17" width="3" height="0.500" fill="#2a9a10"/><rect x="349" y="11" width="1" height="1" fill="#fff" opacity="0.800"/><g shape-rendering="crispEdges" fill="#585858"><rect x="378" y="4" width="1" height="14"/><rect x="376" y="15" width="14" height="1"/><rect x="377" y="5" width="3" height="1"/><rect x="388" y="14" width="1" height="3"/></g><polygon points="383,5.500 383,13 387.500,9.200" fill="#35c035" stroke="#1c8a1c" stroke-width="0.800"/><g shape-rendering="crispEdges" fill="#585858"><rect x="406" y="4" width="1" height="14"/><rect x="404" y="15" width="14" height="1"/><rect x="405" y="5" width="3" height="1"/><rect x="416" y="14" width="1" height="3"/></g><path d="M412.500 4V13.500" stroke="#2060c0" stroke-width="1.400"/><path d="M418 9.500H414M416 7.500L414 9.500L416 11.500" fill="none" stroke="#d03010" stroke-width="1.200"/><path d="M437.500 2.500H445.500L448.500 5.500V15.500H437.500Z" fill="#fdfdfd" stroke="#8a8a8a"/><path d="M445.500 2.500V5.500H448.500" fill="#e4e4e4" stroke="#8a8a8a" stroke-width="0.800"/><path d="M440 6.500V12M440 6.500H442.500M440 9H442" stroke="#605040" fill="none" stroke-width="0.900"/><path d="M444.800 7.800H449.200V11.600H453V15.900H449.200V19.600H444.800V15.900H441V11.600H444.800Z" fill="#22d022" stroke="#0f8a0f" stroke-width="0.900"/><path d="M445.700 8.700V12.500H441.900" fill="none" stroke="#9af09a" stroke-width="0.800"/><polygon points="459,9 464,9 461.5,12" fill="#000"/><circle cx="483.200" cy="10" r="7" fill="#fbfbfb" stroke="#1c64c8" stroke-width="2.400"/><path d="M476.500 7A7.600 7.600 0 0 1 490 7" fill="none" stroke="#5aa8f4" stroke-width="1.800"/><circle cx="483.200" cy="10" r="4.800" fill="none" stroke="#c8ccd4" stroke-width="0.800" stroke-dasharray="0.800 1.700"/><path d="M483 6.500V10.200H486" fill="none" stroke="#303030" stroke-width="1.200"/><polygon points="498,9 503,9 500.5,12" fill="#000"/><rect x="514.700" y="3.500" width="14.800" height="12.800" fill="#fff" stroke="#2f6fc8" stroke-width="1.200"/><rect x="514.700" y="3.300" width="14.800" height="2.700" fill="#4a8ce0"/><path d="M514.700 11H529.500" stroke="#2f6fc8" stroke-width="1"/><path d="M516.500 9.300L518.500 8.700L520 7.700L521.500 8L523 7.300L525 8.300L527.500 7.300" fill="none" stroke="#a01818" stroke-width="1.200"/><path d="M517 14.300L519 13.700L520.500 14.200L522.500 12.600L524 13.700L525.500 12.400L527.500 14.200" fill="none" stroke="#18a018" stroke-width="1.200"/><polygon points="537,9 542,9 539.5,12" fill="#000"/><path d="M566 3V15L569 12.300L571.200 17L573 16.200L570.800 11.600L574.500 11.400Z" fill="#484848"/><path d="M591 10.500H597M600 10.500H606M598.500 3V9M598.500 12V18" stroke="#505050" stroke-width="1" fill="none"/><path d="M632.500 4V17M655 10.500H667M683 17L695 5" stroke="#505050" stroke-width="1.100" fill="none"/><path d="M708.400 11.800L721.200 3.400M710.300 14.800L723.100 6.400M713.300 16.700L723.600 9.400M712 9.500V16M716 6.800V14.500M720 4.200V12" stroke="#505050" stroke-width="0.900" fill="none"/><text x="719.500" y="18.800" font-size="6.800" font-weight="bold" fill="#202020" textLength="4.800" lengthAdjust="spacingAndGlyphs">E</text><path d="M738 3.5H752" stroke="#505050" stroke-dasharray="1 1" shape-rendering="crispEdges"/><path d="M738 6.5H752" stroke="#505050" stroke-dasharray="1 1" shape-rendering="crispEdges"/><path d="M738 10.5H752" stroke="#505050" stroke-dasharray="1 1" shape-rendering="crispEdges"/><path d="M738 14.500H747" stroke="#505050" stroke-dasharray="1 1" shape-rendering="crispEdges"/><text x="747.500" y="18.800" font-size="6.800" font-weight="bold" fill="#202020" textLength="4.500" lengthAdjust="spacingAndGlyphs">F</text><text x="768.500" y="14.800" font-size="12.400" fill="#505050" stroke="#505050" stroke-width="0.400">A</text><rect x="795.500" y="4.500" width="11" height="12" fill="none" stroke="#505050" stroke-dasharray="1 1" shape-rendering="crispEdges"/><text x="797" y="14.800" font-size="11" fill="#505050" font-weight="bold" textLength="8" lengthAdjust="spacingAndGlyphs">T</text><path d="M825.500 3.700L829.200 7.200L825.500 9.700L821.800 7.200Z" fill="#404040"/><path d="M832.900 11.400L836.600 14L832.900 17.500L829.200 14Z" fill="#404040"/><path d="M824.300 12L826.500 13.800L831 8" fill="none" stroke="#404040" stroke-width="1.300"/><polygon points="843,9 848,9 845.5,12" fill="#000"/><path d="M1583 10L1578 15" stroke="#1b56d0" stroke-width="2.600" stroke-linecap="round"/><circle cx="1585.600" cy="7.300" r="3.900" fill="#f4f8ff" stroke="#1b56d0" stroke-width="1.400"/><path d="M1612 7C1612 1.500 1624.500 1.500 1624.500 7C1624.500 10 1622 11.300 1621.500 11.300L1621.700 13.500L1619 11.500C1615 11.500 1612 10 1612 7Z" fill="#eeeef2" stroke="#8a8a8a" stroke-width="1.100"/><path d="M1604.500 11.300C1604.500 6.500 1614 6.500 1614 11.300C1614 14.500 1610 15 1609 15L1606.500 17L1607 14.800C1605.500 14.300 1604.500 13 1604.500 11.300Z" fill="#f4f4f8" stroke="#8a8a8a" stroke-width="1.100"/></g>
</svg>
</body></html>
